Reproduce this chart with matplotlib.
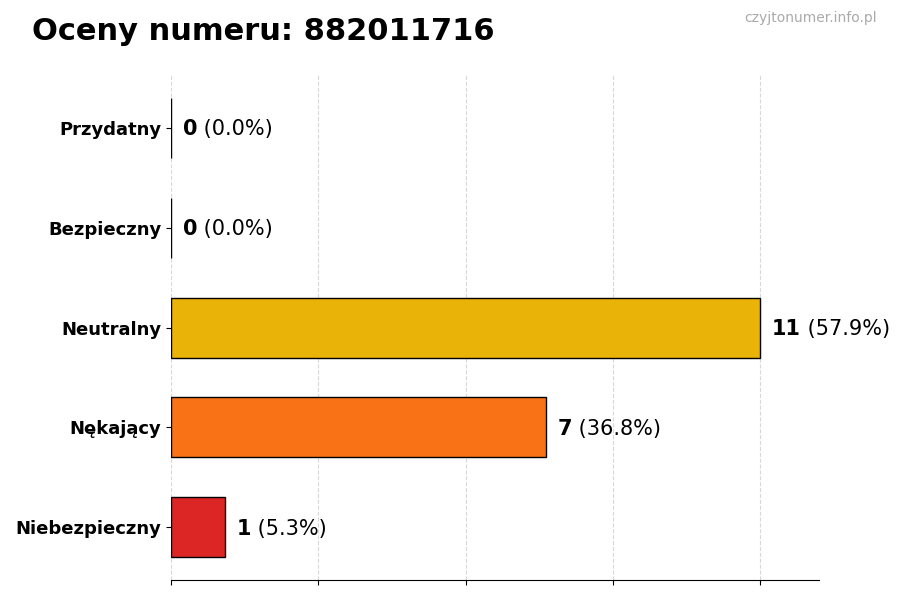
import matplotlib
matplotlib.use('Agg')
import matplotlib.pyplot as plt
import numpy as np

# dane wykresu
kategorie = ['Niebezpieczny', 'Nękający', 'Neutralny', 'Bezpieczny', 'Przydatny']
wartosci = [1, 7, 11, 0, 0]
kolory = ['#dc2626', '#f97316', '#eab308', '#22c55e', '#16a34a']
numer = '882011716'

suma = sum(wartosci)
maks = max(wartosci)

fig = plt.figure(figsize=(9, 6), dpi=100)
ax = fig.add_axes([0.19, 0.033, 0.72, 0.842])

y = np.arange(len(kategorie))
ax.barh(y, wartosci, height=0.6, color=kolory, edgecolor='black', linewidth=1)

ax.set_yticks(y)
ax.set_yticklabels(kategorie, fontsize=13, fontweight='bold')
ax.set_xlim(0, maks * 1.1)
ax.set_xticks(np.linspace(0, maks, 5))
ax.set_xticklabels([])
ax.grid(axis='x', linestyle='--', color='#d8d8d8', linewidth=0.8)
ax.set_axisbelow(True)
for s in ['top', 'right', 'left']:
    ax.spines[s].set_visible(False)

# etykiety z wartosciami
for i, v in enumerate(wartosci):
    proc = v / suma * 100
    t = ax.annotate(str(v), (v, i), xytext=(8.5, -1), textcoords='offset points',
                    va='center', ha='left', fontsize=15, fontweight='bold')
    ax.annotate(' (%.1f%%)' % proc, xy=(1, 0.5), xycoords=t,
                va='center', ha='left', fontsize=15)

fig.text(0.035, 0.948, 'Oceny numeru: ' + numer, fontsize=22, fontweight='bold', va='center')
fig.text(0.974, 0.97, 'czyjtonumer.info.pl', fontsize=10, color='#aaaaaa', ha='right', va='center')

plt.savefig('out.png')
plt.close()
